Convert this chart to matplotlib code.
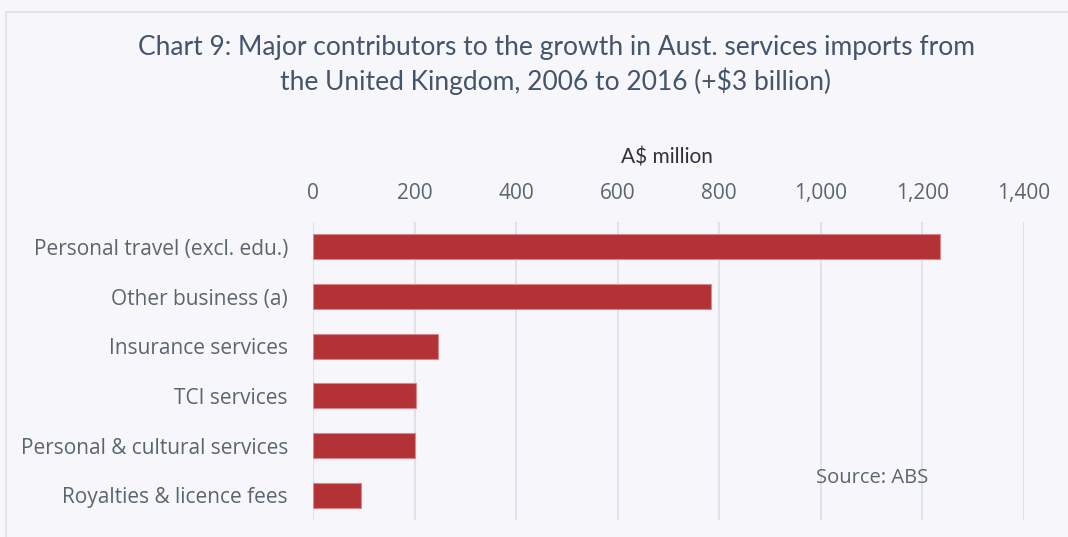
import matplotlib
matplotlib.use("AGG")
import matplotlib.pyplot as plt
from matplotlib.patches import Rectangle

# Growth in services imports from the UK, 2006 to 2016 (A$ million)
categories = [
    "Personal travel (excl. edu.)",
    "Other business (a)",
    "Insurance services",
    "TCI services",
    "Personal & cultural services",
    "Royalties & licence fees",
]
values = [1234, 783, 247, 203, 201, 95]
xticks = [0, 200, 400, 600, 800, 1000, 1200, 1400]

BG = "#f6f6fb"
BAR = "#b33235"
TEXT = "#5b6570"
TITLE = "#44546a"
LABEL_FONT = ["Open Sans", "DejaVu Sans"]

plt.rcParams["font.family"] = ["Lato", "DejaVu Sans"]

fig = plt.figure(figsize=(10.68, 5.37), dpi=100, facecolor=BG)
# light frame round the chart area, kept behind the axes
fig.patches.append(Rectangle((6 / 1068, -0.05), 1.1, 1 - 12 / 537 + 0.05,
                             transform=fig.transFigure, facecolor=BG,
                             edgecolor="#e2e5ea", linewidth=1.5, zorder=-5))

ax = fig.add_axes([313 / 1068, 1 - 520 / 537, 711 / 1068, 298 / 537])
ax.set_facecolor("none")

ypos = list(range(len(categories)))
ax.barh(ypos, values, height=0.5, color=BAR, edgecolor="#d9878a",
        linewidth=0.8, zorder=3)

ax.set_xlim(0, 1400)
ax.set_ylim(len(categories) - 0.5, -0.5)
ax.set_xticks(xticks)
ax.set_xticklabels([f"{v:,}" for v in xticks])
ax.xaxis.tick_top()
ax.set_yticks(ypos)
ax.set_yticklabels(categories)
ax.tick_params(axis="both", length=0, labelsize=15, colors=TEXT)
ax.tick_params(axis="x", pad=13)
ax.tick_params(axis="y", pad=18)
for lab in ax.get_xticklabels() + ax.get_yticklabels():
    lab.set_family(LABEL_FONT)
ax.grid(axis="x", color="#dfe2e8", linewidth=1.5, zorder=0)
for s in ax.spines.values():
    s.set_visible(False)

fig.text(667 / 1068, 1 - 157 / 537, "A$ million", ha="center", va="center",
         fontsize=15, color="#333333")
fig.text(556 / 1068, 1 - 65 / 537,
         "Chart 9: Major contributors to the growth in Aust. services imports from\n"
         "the United Kingdom, 2006 to 2016 (+$3 billion)",
         ha="center", va="center", fontsize=19, color=TITLE, linespacing=1.35)
fig.text(816 / 1068, 1 - 478 / 537, "Source: ABS", ha="left", va="center",
         fontsize=14.5, color=TEXT, family=LABEL_FONT)

fig.savefig("out.png", dpi=100, facecolor=BG)
